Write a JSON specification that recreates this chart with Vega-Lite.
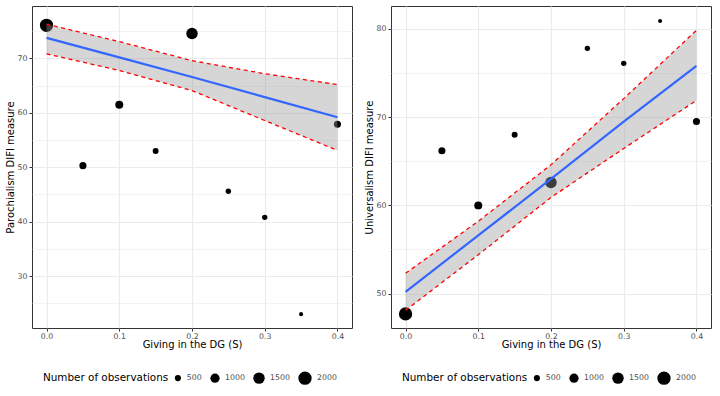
{
  "$schema": "https://vega.github.io/schema/vega-lite/v6.json",
  "padding": {"left": 4, "top": 5, "right": 5, "bottom": 2},
  "background": "white",
  "config": {
    "font": "DejaVu Sans",
    "view": {"stroke": "#333333", "strokeWidth": 1},
    "axis": {
      "labelFont": "DejaVu Sans",
      "labelFontSize": 7.8,
      "labelColor": "#4D4D4D",
      "labelOverlap": false,
      "tickColor": "#333333",
      "tickSize": 3,
      "labelPadding": 2,
      "titlePadding": 2,
      "domain": false,
      "gridColor": "#EBEBEB",
      "gridWidth": 1.2,
      "titleFont": "DejaVu Sans",
      "titleFontSize": 10,
      "titleFontWeight": "normal",
      "titleColor": "#000000"
    },
    "axisX": {"titlePadding": 0, "labelPadding": 1},
    "legend": {
      "titleFont": "DejaVu Sans",
      "titleFontSize": 10.4,
      "titleFontWeight": "normal",
      "titleColor": "#000000",
      "labelFont": "DejaVu Sans",
      "labelFontSize": 7.8,
      "labelColor": "#4D4D4D"
    }
  },
  "datasets": {
    "paro_points": [
      {"giving": 0.0, "difi": 76.1, "n": 2000},
      {"giving": 0.05, "difi": 50.3, "n": 630},
      {"giving": 0.1, "difi": 61.5, "n": 780},
      {"giving": 0.15, "difi": 53.0, "n": 470},
      {"giving": 0.2, "difi": 74.6, "n": 1500},
      {"giving": 0.25, "difi": 45.6, "n": 400},
      {"giving": 0.3, "difi": 40.8, "n": 400},
      {"giving": 0.35, "difi": 23.0, "n": 270},
      {"giving": 0.4, "difi": 57.9, "n": 630}
    ],
    "paro_fit": [
      {"giving": 0.0, "fit": 73.8, "lower": 70.85, "upper": 76.3},
      {"giving": 0.1, "fit": 70.2, "lower": 67.8, "upper": 73.1},
      {"giving": 0.2, "fit": 66.6, "lower": 64.1, "upper": 69.6},
      {"giving": 0.3, "fit": 62.9, "lower": 58.6, "upper": 67.2},
      {"giving": 0.4, "fit": 59.2, "lower": 53.1, "upper": 65.2}
    ],
    "univ_points": [
      {"giving": 0.0, "difi": 47.7, "n": 2000},
      {"giving": 0.05, "difi": 66.2, "n": 630},
      {"giving": 0.1, "difi": 60.0, "n": 780},
      {"giving": 0.15, "difi": 68.0, "n": 470},
      {"giving": 0.2, "difi": 62.6, "n": 1500},
      {"giving": 0.25, "difi": 77.8, "n": 400},
      {"giving": 0.3, "difi": 76.1, "n": 400},
      {"giving": 0.35, "difi": 80.9, "n": 270},
      {"giving": 0.4, "difi": 69.5, "n": 630}
    ],
    "univ_fit": [
      {"giving": 0.0, "fit": 50.2, "lower": 48.1, "upper": 52.3},
      {"giving": 0.1, "fit": 56.6, "lower": 54.4, "upper": 58.2},
      {"giving": 0.2, "fit": 63.0, "lower": 60.9, "upper": 64.6},
      {"giving": 0.3, "fit": 69.5, "lower": 66.45, "upper": 72.1},
      {"giving": 0.4, "fit": 75.8, "lower": 71.9, "upper": 79.85}
    ]
  },
  "spacing": 10,
  "resolve": {"legend": {"size": "independent"}, "scale": {"size": "independent", "y": "independent"}},
  "hconcat": [
    {
      "width": 320,
      "height": 322,
      "resolve": {"axis": {"y": "independent"}},
      "layer": [
        {
          "data": {"name": "paro_points"},
          "mark": {"type": "circle", "color": "#000000", "opacity": 1},
          "encoding": {
            "x": {
              "field": "giving", "type": "quantitative",
              "scale": {"domain": [-0.02, 0.42], "nice": false, "zero": false},
              "axis": {
                "title": "Giving in the DG (S)",
                "values": [0, 0.05, 0.1, 0.15, 0.2, 0.25, 0.3, 0.35, 0.4],
                "labelExpr": "abs(datum.value*10 - round(datum.value*10)) < 0.001 ? format(datum.value, '.1f') : ''",
                "tickOpacity": {"condition": {"test": "abs(datum.value*10 - round(datum.value*10)) > 0.001", "value": 0}, "value": 1},
                "gridWidth": {"condition": {"test": "abs(datum.value*10 - round(datum.value*10)) > 0.001", "value": 0.6}, "value": 1.2}
              }
            },
            "y": {
              "field": "difi", "type": "quantitative",
              "scale": {"domain": [20.45, 79.65], "nice": false, "zero": false},
              "axis": {
                "title": "Parochialism DIFI measure",
                "orient": "left",
                "values": [30, 40, 50, 60, 70],
                "format": "d"
              }
            },
            "size": {
              "field": "n", "type": "quantitative",
              "scale": {"type": "linear", "domain": [500, 2000], "range": [38, 177]},
              "legend": {
                "title": "Number of observations",
                "orient": "none", "legendX": 11, "legendY": 365,
                "direction": "horizontal", "titleOrient": "left",
                "titlePadding": 5, "columnPadding": 8, "labelOffset": 5,
                "format": "d",
                "values": [500, 1000, 1500, 2000],
                "symbolFillColor": "#000000", "symbolStrokeWidth": 0
              }
            }
          }
        },
        {
          "data": {"name": "paro_fit"},
          "mark": {"type": "area", "color": "#999999", "opacity": 0.4},
          "encoding": {
            "x": {"field": "giving", "type": "quantitative"},
            "y": {
              "field": "lower", "type": "quantitative",
              "axis": {"orient": "right", "values": [25, 35, 45, 55, 65, 75], "labels": false, "ticks": false, "domain": false, "title": null, "grid": true, "gridWidth": 0.6}
            },
            "y2": {"field": "upper"}
          }
        },
        {
          "data": {"name": "paro_fit"},
          "mark": {"type": "line", "color": "#FF0000", "strokeWidth": 1.3, "strokeDash": [4, 3.5]},
          "encoding": {
            "x": {"field": "giving", "type": "quantitative"},
            "y": {"field": "upper", "type": "quantitative", "axis": null}
          }
        },
        {
          "data": {"name": "paro_fit"},
          "mark": {"type": "line", "color": "#FF0000", "strokeWidth": 1.3, "strokeDash": [4, 3.5]},
          "encoding": {
            "x": {"field": "giving", "type": "quantitative"},
            "y": {"field": "lower", "type": "quantitative", "axis": null}
          }
        },
        {
          "data": {"name": "paro_fit"},
          "mark": {"type": "line", "color": "#3366FF", "strokeWidth": 2.2},
          "encoding": {
            "x": {"field": "giving", "type": "quantitative"},
            "y": {"field": "fit", "type": "quantitative", "axis": null}
          }
        }
      ]
    },
    {
      "width": 320,
      "height": 322,
      "layer": [
        {
          "data": {"name": "univ_points"},
          "mark": {"type": "circle", "color": "#000000", "opacity": 1},
          "encoding": {
            "x": {
              "field": "giving", "type": "quantitative",
              "scale": {"domain": [-0.02, 0.42], "nice": false, "zero": false},
              "axis": {
                "title": "Giving in the DG (S)",
                "values": [0, 0.05, 0.1, 0.15, 0.2, 0.25, 0.3, 0.35, 0.4],
                "labelExpr": "abs(datum.value*10 - round(datum.value*10)) < 0.001 ? format(datum.value, '.1f') : ''",
                "tickOpacity": {"condition": {"test": "abs(datum.value*10 - round(datum.value*10)) > 0.001", "value": 0}, "value": 1},
                "gridWidth": {"condition": {"test": "abs(datum.value*10 - round(datum.value*10)) > 0.001", "value": 0.6}, "value": 1.2}
              }
            },
            "y": {
              "field": "difi", "type": "quantitative",
              "scale": {"domain": [46.1, 82.6], "nice": false, "zero": false},
              "axis": {
                "title": "Universalism DIFI measure",
                "values": [50, 55, 60, 65, 70, 75, 80],
                "labelExpr": "abs(datum.value/10 - round(datum.value/10)) < 0.01 ? format(round(datum.value), 'd') : ''",
                "tickOpacity": {"condition": {"test": "abs(datum.value/10 - round(datum.value/10)) > 0.01", "value": 0}, "value": 1},
                "gridWidth": {"condition": {"test": "abs(datum.value/10 - round(datum.value/10)) > 0.01", "value": 0.6}, "value": 1.2}
              }
            },
            "size": {
              "field": "n", "type": "quantitative",
              "scale": {"type": "linear", "domain": [500, 2000], "range": [38, 177]},
              "legend": {
                "title": "Number of observations",
                "orient": "none", "legendX": 11, "legendY": 365,
                "direction": "horizontal", "titleOrient": "left",
                "titlePadding": 5, "columnPadding": 8, "labelOffset": 5,
                "format": "d",
                "values": [500, 1000, 1500, 2000],
                "symbolFillColor": "#000000", "symbolStrokeWidth": 0
              }
            }
          }
        },
        {
          "data": {"name": "univ_fit"},
          "mark": {"type": "area", "color": "#999999", "opacity": 0.4},
          "encoding": {
            "x": {"field": "giving", "type": "quantitative"},
            "y": {"field": "lower", "type": "quantitative"},
            "y2": {"field": "upper"}
          }
        },
        {
          "data": {"name": "univ_fit"},
          "mark": {"type": "line", "color": "#FF0000", "strokeWidth": 1.3, "strokeDash": [4, 3.5]},
          "encoding": {
            "x": {"field": "giving", "type": "quantitative"},
            "y": {"field": "upper", "type": "quantitative"}
          }
        },
        {
          "data": {"name": "univ_fit"},
          "mark": {"type": "line", "color": "#FF0000", "strokeWidth": 1.3, "strokeDash": [4, 3.5]},
          "encoding": {
            "x": {"field": "giving", "type": "quantitative"},
            "y": {"field": "lower", "type": "quantitative"}
          }
        },
        {
          "data": {"name": "univ_fit"},
          "mark": {"type": "line", "color": "#3366FF", "strokeWidth": 2.2},
          "encoding": {
            "x": {"field": "giving", "type": "quantitative"},
            "y": {"field": "fit", "type": "quantitative"}
          }
        }
      ]
    }
  ]
}
